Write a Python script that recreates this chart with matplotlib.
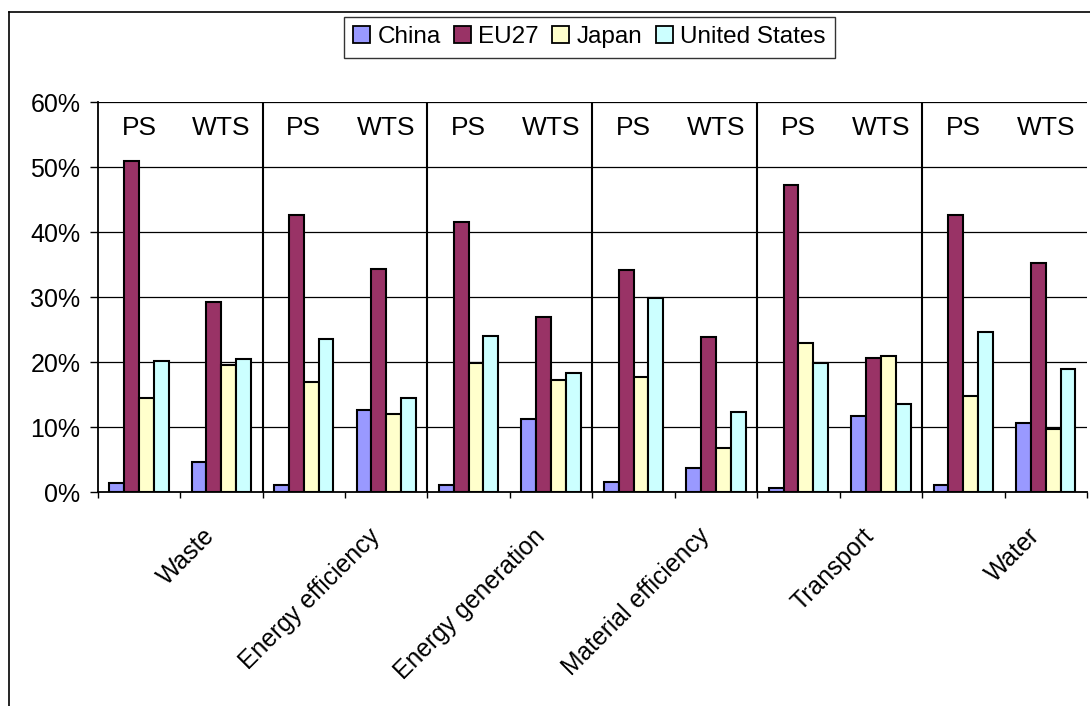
import matplotlib
matplotlib.use("Agg")
import matplotlib.pyplot as plt
import matplotlib.transforms as mtransforms
from matplotlib.lines import Line2D
from matplotlib.patches import Patch
import numpy as np

plt.rcParams['font.family'] = ['Liberation Sans', 'DejaVu Sans']

categories = ["Waste", "Energy efficiency", "Energy generation",
              "Material efficiency", "Transport", "Water"]
subgroups = ["PS", "WTS"]
series = ["China", "EU27", "Japan", "United States"]

# shares per category, ordered PS then WTS within each category
china = [1.4, 4.7, 1.1, 12.6, 1.1, 11.2, 1.6, 3.8, 0.6, 11.8, 1.1, 10.7]
eu27 = [51.0, 29.2, 42.6, 34.4, 41.5, 27.0, 34.1, 23.8, 47.2, 20.6, 42.6, 35.2]
japan = [14.5, 19.6, 16.9, 12.0, 19.9, 17.2, 17.8, 6.8, 22.9, 21.0, 14.8, 9.8]
united_states = [20.2, 20.5, 23.5, 14.5, 24.0, 18.3, 29.8, 12.3, 19.9, 13.6, 24.6, 18.9]

colors = ["#9999FF", "#993366", "#FFFFCC", "#CCFFFF"]

fig = plt.figure(figsize=(10.9, 7.06), dpi=100)
ax = fig.add_axes([0.0896, 0.3027, 0.9076, 0.5528])

n = len(categories) * len(subgroups)
x = np.arange(n)
w = 0.18
for i, (vals, col) in enumerate(zip([china, eu27, japan, united_states], colors)):
    ax.bar(x + (i - 1.5) * w, vals, width=w, color=col, edgecolor="black",
           linewidth=1.5, zorder=3)

ax.set_xlim(-0.5, n - 0.5)
ax.set_ylim(0, 60)

# horizontal gridlines
for yv in range(10, 61, 10):
    ax.axhline(yv, color="black", linewidth=0.9, zorder=1)

# separators between categories
for b in np.arange(1.5, n - 1, 2):
    ax.axvline(b, color="black", linewidth=1.5, zorder=2)

ax.set_yticks(range(0, 61, 10))
ax.set_yticklabels([f"{v}%" for v in range(0, 61, 10)], fontsize=18)
ax.tick_params(axis="y", direction="out", length=5.5, width=1, pad=7)

ax.set_xticks(np.arange(-0.5, n, 1))
ax.set_xticklabels([])
ax.tick_params(axis="x", direction="out", length=4.5, width=1)

for s in ["top", "right"]:
    ax.spines[s].set_visible(False)
ax.spines["left"].set_linewidth(1.3)
ax.spines["bottom"].set_linewidth(1.3)

# PS / WTS labels near the top of each group
for k in range(n):
    ax.text(k, 56.0, subgroups[k % 2], ha="center", va="center", fontsize=19)

# rotated category labels below the axis
for c, name in enumerate(categories):
    xc = 2 * c + 0.5
    trans = ax.get_xaxis_transform() + mtransforms.ScaledTranslation(
        31 / 100, -40 / 100, fig.dpi_scale_trans)
    ax.text(xc, 0, name, transform=trans, rotation=45, ha="right", va="center",
            rotation_mode="anchor", fontsize=17.8)

handles = [Patch(facecolor=c, edgecolor="black", linewidth=1.3) for c in colors]
leg = fig.legend(handles, series, loc="center", bbox_to_anchor=(0.5408, 0.9469),
                 ncol=4, fontsize=17.5, frameon=True, fancybox=False,
                 handlelength=0.7, handleheight=0.7, handletextpad=0.3,
                 columnspacing=0.55, borderpad=0.4)
leg.get_frame().set_edgecolor("black")
leg.get_frame().set_linewidth(1.0)

# outer chart frame
fy = 1 - 11.5 / 706
fx = 8.5 / 1090
fig.add_artist(Line2D([fx, fx], [0, fy], transform=fig.transFigure,
                      color="black", linewidth=1.2))
fig.add_artist(Line2D([fx, 1], [fy, fy], transform=fig.transFigure,
                      color="black", linewidth=1.2))

fig.savefig("out.png", dpi=100)
